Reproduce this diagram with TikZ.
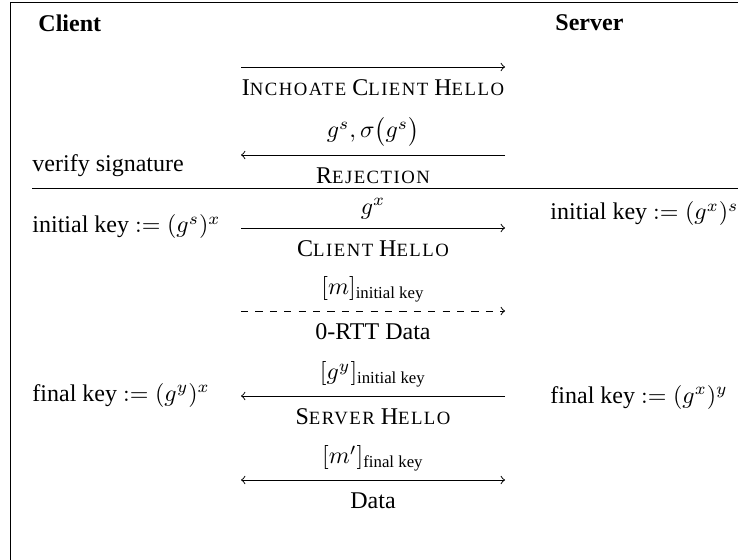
\documentclass[tikz,border=0pt]{standalone}
\usepackage{amsmath}
\usepackage{fontspec}
\setmainfont{Liberation Serif}
\usepackage{tikz}
\usetikzlibrary{arrows,positioning}
% Liberation Serif has no small caps, so fake them
\newcommand\fakesc[1]{{\fontsize{7.8}{9.6}\selectfont\addfontfeature{LetterSpace=8}#1}}
\tikzset{
  party/.style = {font=\bfseries, inner sep=0pt, anchor=west},
  keytext/.style = {inner sep=0pt, anchor=west},
  msg/.style = {->},
  lbla/.style = {above=3.5pt, inner sep=0pt},
  lblb/.style = {below=5pt, inner sep=0pt}
}

\begin{document}
\begin{tikzpicture}[x=0.41667pt, y=-0.41667pt]
	\useasboundingbox (0,0) rectangle (738,560);
	% frame and separator
	\draw (10,560) -- (10,2.5) -- (738,2.5);
	\draw (32,188) -- (738,188);

	\node [party] (client) at (38,23) {Client};
	\node [party] (server) at (555,23) {Server};

	% ends of the messages
	\foreach \n/\y in {ich/67, rej/155, chl/228, rtt/311, shl/396, dat/480} {
		\coordinate (\n-c) at (241,\y);
		\coordinate (\n-s) at (505,\y);
	}

	\node [keytext] (verify) at (32,166) {verify signature};
	\node [keytext] (ckey1) at (32,227) {initial key $:= (g^s)^x$};
	\node [keytext] (skey1) at (550,214) {initial key $:= (g^x)^s$};
	\node [keytext] (ckey2) at (32,395) {final key $:= (g^y)^x$};
	\node [keytext] (skey2) at (550,397) {final key $:= (g^x)^y$};

	\draw [msg] (ich-c) -- node [lblb] (ich-b) {I\fakesc{NCHOATE} C\fakesc{LIENT} H\fakesc{ELLO}} (ich-s);
	\draw [msg] (rej-s) -- node [lbla] (rej-a) {$g^s, \sigma\bigl(g^s\bigr)$}
		node [lblb] (rej-b) {R\fakesc{EJECTION}} (rej-c);
	\draw [msg] (chl-c) -- node [lbla] (chl-a) {$g^x$}
		node [lblb] (chl-b) {C\fakesc{LIENT} H\fakesc{ELLO}} (chl-s);
	\draw [msg, dashed] (rtt-c) -- node [lbla] (rtt-a) {$[m]_{\text{initial key}}$}
		node [lblb] (rtt-b) {0-RTT Data} (rtt-s);
	\draw [msg] (shl-s) -- node [lbla] (shl-a) {$[g^y]_{\text{initial key}}$}
		node [lblb] (shl-b) {S\fakesc{ERVER} H\fakesc{ELLO}} (shl-c);
	\draw [<->] (dat-c) -- node [lbla] (dat-a) {$[m']_{\text{final key}}$}
		node [lblb] (dat-b) {Data} (dat-s);
\end{tikzpicture}
\end{document}
